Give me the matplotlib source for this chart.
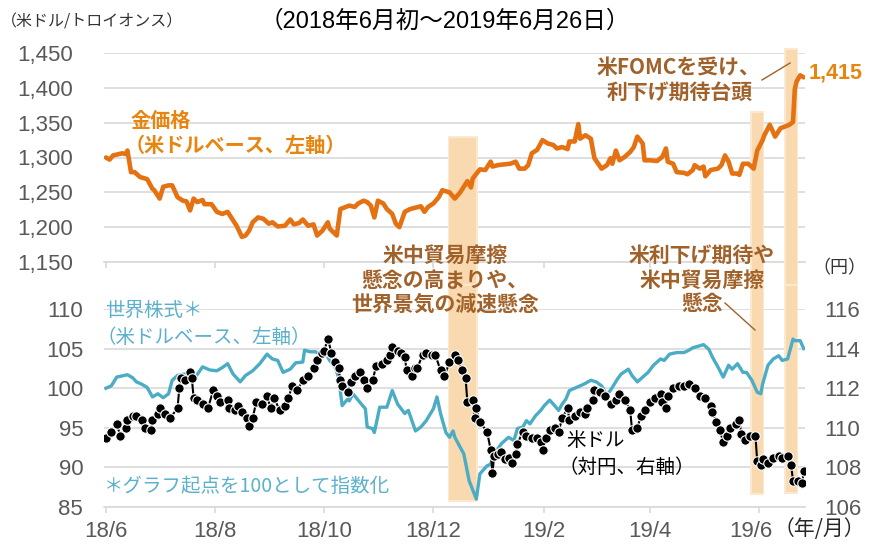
import matplotlib
matplotlib.use("Agg")
import matplotlib.pyplot as plt
import matplotlib.dates as mdates
import matplotlib.transforms as mtransforms
from matplotlib.patches import Rectangle
from matplotlib.lines import Line2D
import pandas as pd

START = pd.Timestamp("2018-06-01")

# gold price (USD/oz), days counted from 2018-06-01
gold_days = [0, 2, 4, 9, 11, 12, 14, 16, 19, 23, 26, 27, 30, 32, 35, 37, 40, 43, 45, 47,
             49, 51, 54, 55, 59, 62, 65, 68, 70, 73, 76, 78, 80, 82, 85, 88, 91, 93, 96, 100,
             103, 105, 108, 110, 113, 116, 118, 121, 124, 125, 129, 131, 134, 136, 139, 141,
             144, 146, 148, 150, 152, 155, 157, 160, 162, 164, 167, 170, 173, 176, 178, 180,
             183, 186, 188, 192, 195, 198, 202, 204, 205, 209, 212, 215, 216, 219, 222, 226,
             229, 231, 234, 236, 238, 241, 244, 247, 250, 252, 255, 258, 259, 262, 264, 265,
             268, 271, 273, 277, 280, 282, 283, 285, 287, 290, 293, 295, 297, 300, 301, 304,
             308, 311, 313, 314, 317, 319, 323, 325, 328, 329, 332, 334, 335, 338, 342, 344,
             346, 348, 350, 353, 354, 356, 359, 362, 364, 367, 368, 371, 374, 377, 380, 382,
             384, 385, 386, 388, 390]
gold_price = [1300, 1297, 1303, 1306, 1305, 1310, 1279, 1279, 1272, 1269, 1255, 1253, 1241, 1258,
              1260, 1260, 1243, 1238, 1237, 1224, 1241, 1236, 1239, 1233, 1233, 1222, 1219, 1222,
              1214, 1202, 1186, 1188, 1195, 1207, 1214, 1212, 1205, 1207, 1201, 1202, 1211, 1204,
              1206, 1211, 1202, 1204, 1188, 1195, 1207, 1198, 1188, 1226, 1229, 1231, 1229, 1234,
              1238, 1236, 1231, 1214, 1238, 1234, 1226, 1219, 1205, 1200, 1222, 1226, 1228, 1230,
              1222, 1229, 1234, 1243, 1253, 1250, 1241, 1250, 1266, 1257, 1270, 1283, 1282, 1294,
              1287, 1289, 1290, 1291, 1294, 1284, 1284, 1289, 1306, 1311, 1325, 1320, 1318, 1313,
              1315, 1312, 1323, 1323, 1348, 1327, 1332, 1327, 1299, 1284, 1289, 1299, 1291, 1310,
              1296, 1301, 1308, 1315, 1330, 1320, 1296, 1296, 1295, 1301, 1313, 1294, 1291, 1279,
              1278, 1276, 1282, 1289, 1284, 1287, 1273, 1282, 1284, 1289, 1303, 1294, 1277, 1277,
              1275, 1291, 1291, 1284, 1310, 1325, 1332, 1347, 1330, 1342, 1345, 1347, 1351, 1398,
              1409, 1418, 1415]

# world stocks (USD base, start = 100)
stock_days = [0, 3, 6, 12, 15, 17, 20, 23, 26, 29, 32, 35, 37, 40, 44, 50, 54, 58, 62, 65, 68,
              71, 75, 78, 82, 86, 90, 93, 96, 99, 103, 106, 110, 111, 114, 117, 120, 122, 125,
              128, 130, 132, 135, 136, 138, 142, 145, 146, 149, 150, 153, 157, 160, 163, 167,
              169, 173, 176, 179, 183, 185, 187, 190, 192, 194, 195, 200, 203, 207, 209, 213,
              215, 217, 221, 225, 228, 230, 233, 235, 237, 240, 243, 245, 248, 250, 253, 255,
              257, 259, 263, 267, 271, 274, 277, 280, 283, 286, 288, 292, 294, 297, 300, 303,
              306, 310, 312, 315, 319, 323, 325, 328, 331, 334, 337, 339, 342, 345, 348, 350,
              353, 356, 358, 361, 364, 366, 367, 370, 373, 376, 378, 381, 384, 385, 388, 390]
stock_index = [100.0, 100.3, 101.4, 101.7, 101.3, 100.8, 100.5, 100.1, 98.9, 99.3, 98.8, 99.3,
               101.0, 101.6, 101.8, 101.4, 102.7, 102.3, 102.2, 102.6, 103.1, 101.8, 100.8, 101.6,
               102.2, 103.1, 104.3, 103.7, 103.5, 102.0, 102.4, 103.2, 103.3, 104.8, 104.6, 104.6,
               104.3, 104.8, 103.5, 102.7, 101.4, 97.8, 98.6, 98.4, 99.3, 98.2, 97.4, 95.1, 94.9,
               94.4, 97.6, 97.6, 99.7, 98.0, 96.8, 97.2, 94.6, 95.1, 95.9, 97.4, 98.9, 96.8, 94.4,
               93.8, 94.6, 93.8, 91.7, 88.3, 86.0, 89.2, 90.2, 90.4, 91.7, 93.0, 93.8, 93.4, 94.9,
               95.1, 95.9, 95.5, 96.5, 97.2, 97.8, 98.5, 98.0, 97.2, 98.0, 98.6, 99.7, 100.1, 100.5,
               101.0, 100.8, 100.3, 99.1, 100.1, 101.2, 101.8, 102.4, 101.6, 100.8, 101.4, 102.0,
               102.9, 103.7, 103.5, 104.3, 104.5, 104.5, 104.7, 105.1, 105.3, 105.5, 104.9, 103.9,
               102.7, 101.4, 102.9, 102.4, 103.1, 102.0, 102.0, 101.0, 99.5, 99.3, 100.5, 102.9,
               103.7, 104.1, 103.5, 103.7, 106.2, 106.0, 106.0, 105.0]

# USD/JPY (right axis)
usdjpy_days = [0, 3, 6, 8, 11, 12, 15, 17, 20, 22, 25, 26, 29, 30, 33, 36, 40, 41, 42, 44, 47,
               48, 49, 51, 54, 57, 60, 62, 64, 68, 69, 72, 74, 76, 79, 80, 82, 84, 87, 90, 92,
               94, 97, 100, 102, 104, 107, 110, 113, 116, 118, 121, 122, 124, 126, 128, 130, 131,
               132, 135, 137, 139, 142, 144, 146, 149, 151, 154, 157, 159, 160, 163, 165, 167,
               168, 171, 173, 174, 177, 179, 182, 184, 187, 189, 192, 195, 197, 199, 201, 202,
               205, 206, 207, 209, 213, 215, 216, 217, 219, 221, 223, 225, 227, 229, 230, 233,
               235, 238, 241, 243, 244, 246, 248, 251, 253, 255, 258, 259, 262, 265, 268, 269,
               272, 273, 276, 279, 282, 285, 287, 290, 293, 294, 297, 299, 301, 304, 307, 310,
               311, 313, 314, 317, 320, 323, 326, 329, 332, 335, 338, 339, 341, 343, 345, 347,
               349, 352, 354, 355, 357, 360, 363, 364, 366, 367, 370, 373, 376, 378, 381, 383,
               384, 387, 389, 390]
usdjpy_rate = [109.5, 109.8, 110.2, 109.6, 110.0, 110.4, 110.6, 110.6, 110.4, 110.0, 109.9, 110.4,
               110.7, 111.0, 110.7, 110.5, 111.0, 112.0, 112.5, 112.4, 112.8, 112.5, 111.5, 111.4,
               111.2, 111.0, 111.9, 111.6, 111.3, 111.4, 111.0, 110.9, 111.1, 110.8, 110.5, 110.1,
               110.5, 111.3, 111.2, 111.6, 111.0, 111.5, 110.9, 111.1, 111.5, 112.1, 111.9, 112.4,
               112.6, 113.0, 113.4, 113.8, 113.9, 114.5, 113.8, 113.3, 113.0, 112.4, 112.1, 111.8,
               112.3, 112.6, 112.8, 112.4, 112.0, 112.4, 113.1, 113.2, 113.4, 113.7, 114.1, 113.9,
               113.8, 113.6, 112.9, 112.6, 113.0, 113.0, 113.7, 113.8, 113.7, 113.7, 112.9, 112.6,
               113.3, 113.7, 113.4, 112.9, 112.5, 111.3, 111.4, 110.5, 111.0, 110.3, 109.8, 108.9,
               107.7, 108.6, 108.7, 108.8, 108.4, 108.5, 108.2, 108.7, 109.2, 109.8, 109.6, 109.5,
               109.5, 109.3, 108.9, 109.5, 109.9, 110.0, 109.8, 110.5, 111.0, 110.4, 110.6, 110.8,
               110.7, 111.0, 111.4, 111.9, 111.8, 111.6, 111.2, 111.4, 111.7, 111.4, 110.9, 109.9,
               110.0, 110.6, 110.9, 111.3, 111.5, 111.7, 111.3, 111.0, 111.6, 112.0, 112.1, 112.1,
               112.2, 112.0, 111.6, 111.5, 111.1, 110.8, 110.3, 109.9, 109.3, 109.6, 110.0, 110.2,
               110.4, 109.7, 109.4, 109.6, 109.6, 108.3, 108.1, 108.4, 108.2, 108.5, 108.6, 108.5,
               108.6, 108.1, 107.3, 107.3, 107.2, 107.8]

band_start = ["2018-12-10", "2019-05-28", "2019-06-16"]
band_end = ["2018-12-25", "2019-06-03", "2019-06-22"]

tick_dates = ["2018-06-01", "2018-08-01", "2018-10-01", "2018-12-01",
              "2019-02-01", "2019-04-01", "2019-06-01"]
tick_labels = ["18/6", "18/8", "18/10", "18/12", "19/2", "19/4", "19/6"]

gold_ticks = [1150, 1200, 1250, 1300, 1350, 1400, 1450]
stock_ticks = [85, 90, 95, 100, 105, 110]
usdjpy_ticks = [106, 108, 110, 112, 114, 116]

plt.rcParams["font.family"] = ["Liberation Sans", "Noto Sans CJK JP"]
JP = ["Noto Sans CJK JP", "DejaVu Sans"]

GRID = "#D9D9D9"
TICK = "#595959"
GOLD = "#E57212"
GOLD_TXT = "#E8850F"
BLUE = "#4BACC6"
BLUE_TXT = "#5BB0CB"
BROWN = "#A0622A"
BAND = "#F9D9AF"
BAND_EDGE = "#FCE8CF"

W, H = 869, 544
fig = plt.figure(figsize=(W / 100, H / 100), dpi=100)


def fx(px):
    return px / W


def fy(py):
    return 1 - py / H


def to_dates(days):
    return START + pd.to_timedelta(days, unit="D")


L, R = 104, 805
ax_top = fig.add_axes([fx(L), fy(262), (R - L) / W, (262 - 53) / H])
ax_bot = fig.add_axes([fx(L), fy(507), (R - L) / W, (507 - 309) / H])
ax_r = ax_bot.twinx()

xmin = START + pd.Timedelta(days=-1.1)
xmax = START + pd.Timedelta(days=390.7)
ticks = pd.to_datetime(tick_dates)

for ax in (ax_top, ax_bot, ax_r):
    ax.set_facecolor("none")
    for s in ("top", "left", "right"):
        ax.spines[s].set_visible(False)
    ax.spines["bottom"].set_color(GRID)
    ax.spines["bottom"].set_linewidth(1.2)
    ax.set_xlim(xmin, xmax)
    ax.set_axisbelow(True)

# top panel: gold
ax_top.set_ylim(1150, 1450)
ax_top.set_yticks(gold_ticks)
ax_top.set_yticklabels([f"{v:,}" for v in gold_ticks])
ax_top.yaxis.grid(True, color=GRID, lw=1.2)
ax_top.tick_params(axis="y", length=0, pad=22, labelsize=16, labelcolor=TICK)
ax_top.set_xticks(ticks)
ax_top.tick_params(axis="x", direction="out", length=4.5, width=1.2, color=GRID, labelbottom=False)

# bottom panel: stocks + usd/jpy
ax_bot.set_ylim(85, 110)
ax_bot.set_yticks(stock_ticks)
ax_bot.yaxis.grid(True, color=GRID, lw=1.2)
ax_bot.tick_params(axis="y", length=0, pad=15, labelsize=16, labelcolor=TICK)
ax_bot.set_xticks(ticks)
ax_bot.set_xticklabels(tick_labels)
ax_bot.tick_params(axis="x", direction="out", length=4.5, width=1.2, color=GRID,
                   pad=5.5, labelsize=16, labelcolor=TICK)
# the last month label sits a little left of its tick, as in the source chart
last = ax_bot.get_xticklabels()[-1]
last.set_transform(last.get_transform() +
                   mtransforms.ScaledTranslation(-8 / 100, 0, fig.dpi_scale_trans))

ax_r.set_ylim(106, 116)
ax_r.set_yticks(usdjpy_ticks)
ax_r.tick_params(axis="y", length=0, pad=14, labelsize=16, labelcolor=TICK)
ax_r.spines["bottom"].set_visible(False)


# shaded event bands, split between the two panels
def band(ax, d0, d1, top_px, bot_px):
    tr = mtransforms.blended_transform_factory(ax.transData, fig.transFigure)
    x0 = mdates.date2num(pd.Timestamp(d0))
    x1 = mdates.date2num(pd.Timestamp(d1))
    ax.add_patch(Rectangle((x0 - 0.9, fy(bot_px + 2)), x1 - x0 + 1.8, (bot_px - top_px + 4) / H,
                           transform=tr, facecolor=BAND_EDGE, edgecolor="none",
                           clip_on=False, zorder=2.6))
    ax.add_patch(Rectangle((x0, fy(bot_px)), x1 - x0, (bot_px - top_px) / H,
                           transform=tr, facecolor=BAND, edgecolor="none",
                           clip_on=False, zorder=2.7))


band_tops = [138, 113, 50]
band_bottoms = [500, 493, 492]
SPLIT = 286
for d0, d1, t, b in zip(band_start, band_end, band_tops, band_bottoms):
    band(ax_top, d0, d1, t, SPLIT)
    band(ax_bot, d0, d1, SPLIT, b)

ax_top.plot(to_dates(gold_days), gold_price, color=GOLD, lw=3.3,
            solid_joinstyle="round", solid_capstyle="round", zorder=3)
ax_bot.plot(to_dates(stock_days), stock_index, color=BLUE, lw=2.4,
            solid_joinstyle="round", zorder=3)
ax_r.plot(to_dates(usdjpy_days), usdjpy_rate, color="black", lw=1.5, marker="o",
          ms=6.8, mfc="black", mec="white", mew=0.8, zorder=3)

# texts
fig.text(fx(445), fy(21), "（2018年6月初～2019年6月26日）", ha="center", va="center",
         fontsize=17, color="black")
fig.text(fx(1), fy(22), "（米ドル/トロイオンス）", ha="left", va="center",
         fontsize=11.5, family=JP, color="#333333")
fig.text(fx(839), fy(268), "（円）", ha="center", va="center", fontsize=13,
         family=JP, color="#333333")
fig.text(fx(774), fy(529), "（年/月）", ha="left", va="center", fontsize=15,
         family=JP, color="#262626")

fig.text(fx(131), fy(120), "金価格", ha="left", va="center", fontsize=14.5,
         family=JP, weight="bold", color=GOLD_TXT)
fig.text(fx(125), fy(145), "（米ドルベース、左軸）", ha="left", va="center", fontsize=14.5,
         family=JP, weight="bold", color=GOLD_TXT)

fig.text(fx(678), fy(68), "米FOMCを受け、", ha="center", va="center", fontsize=15,
         family=JP, weight="bold", color=BROWN)
fig.text(fx(680), fy(92), "利下げ期待台頭", ha="center", va="center", fontsize=15,
         family=JP, weight="bold", color=BROWN)
fig.add_artist(Line2D([fx(762), fx(790)], [fy(80), fy(63)], transform=fig.transFigure,
                      color=BROWN, lw=1))
fig.text(fx(809), fy(73), "1,415", ha="left", va="center", fontsize=15.5,
         family=["Liberation Sans"], weight="bold", color=GOLD_TXT)

for txt, y in zip(["米中貿易摩擦", "懸念の高まりや、", "世界景気の減速懸念"], [255, 280, 304]):
    fig.text(fx(445), fy(y), txt, ha="center", va="center", fontsize=15,
             family=JP, weight="bold", color=BROWN)
for txt, y in zip(["米利下げ期待や", "米中貿易摩擦", "懸念"], [255, 280, 304]):
    fig.text(fx(702), fy(y), txt, ha="center", va="center", fontsize=15,
             family=JP, weight="bold", color=BROWN)
fig.add_artist(Line2D([fx(725), fx(755)], [fy(303), fy(330)], transform=fig.transFigure,
                      color=BROWN, lw=1))

fig.text(fx(105), fy(310), "世界株式＊", ha="left", va="center", fontsize=14,
         family=JP, color=BLUE_TXT)
fig.text(fx(97), fy(337), "（米ドルベース、左軸）", ha="left", va="center", fontsize=14,
         family=JP, color=BLUE_TXT)
fig.text(fx(104), fy(486), "＊グラフ起点を100として指数化", ha="left", va="center",
         fontsize=14, family=JP, color=BLUE_TXT)

fig.text(fx(566), fy(441), "米ドル", ha="left", va="center", fontsize=14,
         family=JP, color="black")
fig.text(fx(558), fy(467), "（対円、右軸）", ha="left", va="center", fontsize=14,
         family=JP, color="black")

fig.savefig("out.png", dpi=100)
